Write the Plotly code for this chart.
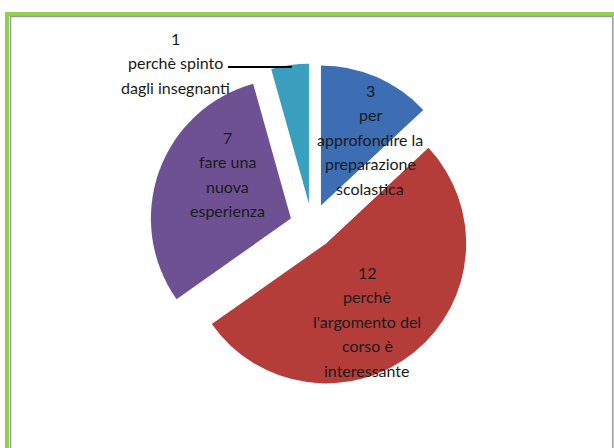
import plotly.graph_objects as go

# ---- data ----
categories = [
    "per approfondire la preparazione scolastica",
    "perchè l'argomento del corso è interessante",
    "fare una nuova esperienza",
    "perchè spinto dagli insegnanti",
]
values = [3, 12, 7, 1]
label_lines = [
    ["per", "approfondire la", "preparazione", "scolastica"],
    ["perchè", "l'argomento del", "corso è", "interessante"],
    ["fare una", "nuova", "esperienza"],
    ["perchè spinto", "dagli insegnanti"],
]
colors = ["#3d6db3", "#b43d3a", "#6d5193", "#3a9fbe"]

W, H = 614, 448
FONT = "Lato, Roboto, sans-serif"


def px(x):
    return x / W


def py(y):
    return 1 - y / H


fig = go.Figure(
    go.Pie(
        labels=categories,
        values=values,
        sort=False,
        direction="clockwise",
        rotation=0,
        pull=[0.16, 0.16, 0.16, 0.16],
        marker=dict(colors=colors, line=dict(width=0)),
        textinfo="none",
        showlegend=False,
        domain=dict(x=[px(149.6), px(474.4)], y=[py(388.4), py(63.6)]),
    )
)

# label anchor (center of first line) for each slice, in pixels
anchors = [(370, 90), (367, 272), (227, 137), (175, 38)]
spacing = 24.5
annotations = []
for (ax_, ay_), v, lines in zip(anchors, values, label_lines):
    all_lines = [str(v)] + lines
    for i, t in enumerate(all_lines):
        annotations.append(
            dict(
                x=px(ax_), y=py(ay_ + i * spacing),
                xref="paper", yref="paper",
                text=t, showarrow=False,
                xanchor="center", yanchor="middle",
                font=dict(family=FONT, size=16, color="#1a1a1a"),
            )
        )

shapes = [
    # outer green frame
    dict(type="rect", xref="paper", yref="paper",
         x0=px(7), y0=-0.05, x1=1.05, y1=py(14),
         line=dict(color="#92d050", width=4)),
    # inner gray frame
    dict(type="rect", xref="paper", yref="paper",
         x0=px(10.5), y0=-0.05, x1=px(612.8), y1=py(16.5),
         line=dict(color="#9a9a9a", width=1.5)),
    # leader line for the small slice
    dict(type="line", xref="paper", yref="paper",
         x0=px(228), y0=py(67), x1=px(292), y1=py(67),
         line=dict(color="black", width=2)),
]

fig.update_layout(
    width=W, height=H,
    margin=dict(l=0, r=0, t=0, b=0),
    paper_bgcolor="white",
    plot_bgcolor="white",
    annotations=annotations,
    shapes=shapes,
)

fig.write_html(
    "out.html",
    config={"displayModeBar": False},
    post_script="document.body.style.margin='0';document.body.style.overflow='hidden';",
)
